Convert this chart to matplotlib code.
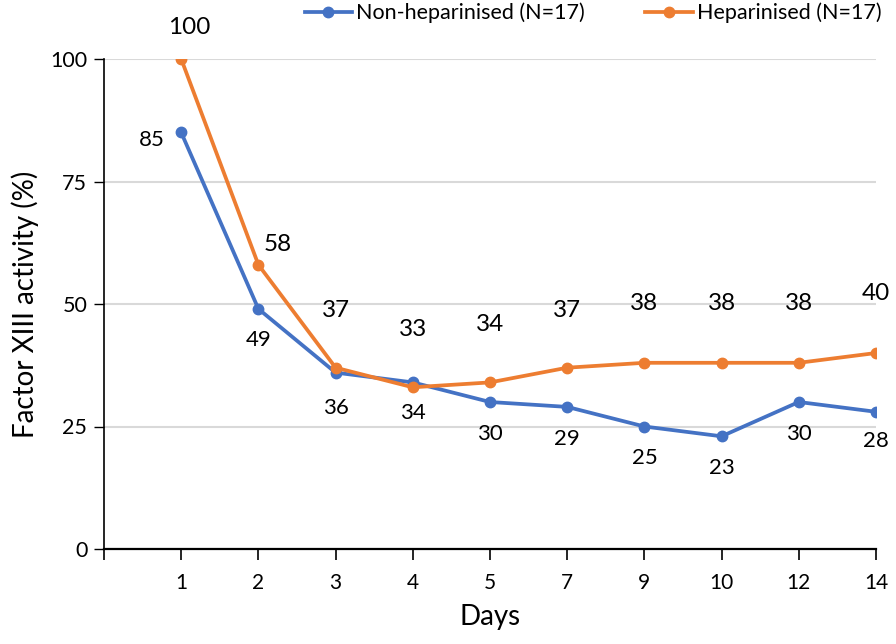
import matplotlib
matplotlib.use("Agg")
import matplotlib.pyplot as plt

days = ["1", "2", "3", "4", "5", "7", "9", "10", "12", "14"]
non_hep = [85, 49, 36, 34, 30, 29, 25, 23, 30, 28]
hep = [100, 58, 37, 33, 34, 37, 38, 38, 38, 40]
y_ticks = [0, 25, 50, 75, 100]

BLUE = "#4472C4"
ORANGE = "#ED7D31"
plt.rcParams["font.family"] = ["Lato", "DejaVu Sans"]

fig = plt.figure(figsize=(8.96, 6.44), dpi=100)
ax = fig.add_axes([104/896, 1-549/644, (876-104)/896, (549-59)/644])

x = list(range(len(days)))
ax.plot(x, non_hep, color=BLUE, lw=2.7, marker="o", ms=7.5, label="Non-heparinised (N=17)", zorder=3)
ax.plot(x, hep, color=ORANGE, lw=2.7, marker="o", ms=7.5, label="Heparinised (N=17)", zorder=3)

ax.set_xlim(-1, len(days) - 1)
ax.set_ylim(0, 100)
ax.set_yticks(y_ticks)
ax.set_xticks([-1] + x)
ax.set_xticklabels([""] + days)
ax.tick_params(axis="y", length=7, width=1, labelsize=15.5, pad=5, color="black")
ax.tick_params(axis="x", length=8, width=1.2, labelsize=15, pad=9, direction="out")
ax.grid(axis="y", color="#d9d9d9", lw=1.5)
ax.set_axisbelow(True)
for s in ["top", "right"]:
    ax.spines[s].set_visible(False)
ax.spines["left"].set_linewidth(1.2)
ax.spines["bottom"].set_linewidth(1.6)

ax.set_xlabel("Days", fontsize=20, labelpad=8)
ax.set_ylabel("Factor XIII activity (%)", fontsize=20, labelpad=8)

f = 0.72
blue_off = [(-29, 8), (0, 31), (0, 35), (0, 31), (0, 32), (0, 32), (0, 32), (0, 32), (0, 32), (0, 29)]
orange_off = [(8, -31), (19, -20), (0, -57), (0, -58), (0, -58), (0, -57), (0, -59), (0, -59), (0, -59), (0, -59)]
for i, v in enumerate(non_hep):
    dx, dy = blue_off[i]
    ax.annotate(str(v), (i, v), xytext=(dx*f, -dy*f), textcoords="offset points",
                ha="center", va="center", fontsize=16)
for i, v in enumerate(hep):
    dx, dy = orange_off[i]
    ax.annotate(str(v), (i, v), xytext=(dx*f, -dy*f), textcoords="offset points",
                ha="center", va="center", fontsize=17.5, annotation_clip=False)

fig.legend(loc="center", bbox_to_anchor=(0.662, 1-13/644), ncol=2, frameon=False,
           fontsize=15.5, handlelength=2.2, columnspacing=2.8, handletextpad=0.2)

fig.savefig("out.png", dpi=100)
